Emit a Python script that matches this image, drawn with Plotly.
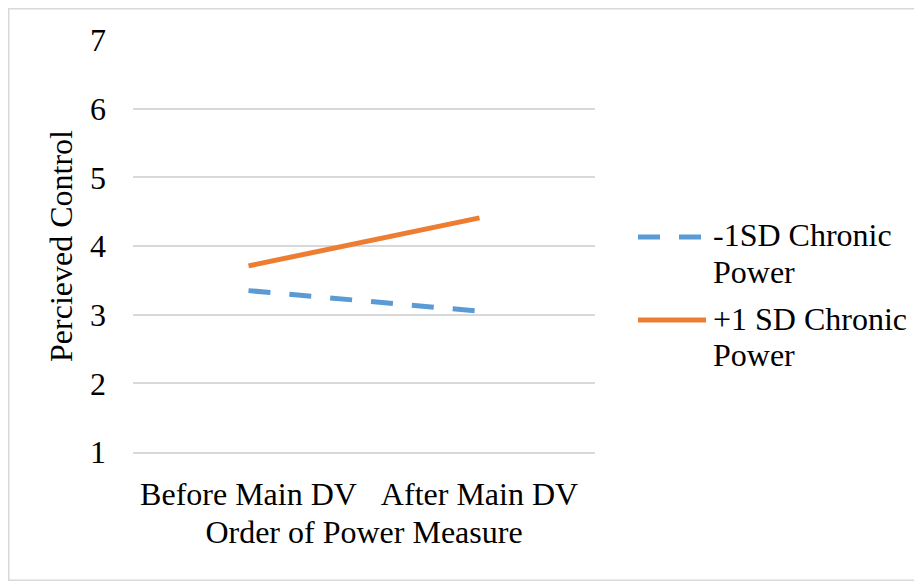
import plotly.graph_objects as go

categories = ["Before Main DV", "After Main DV"]
series_names = ["-1SD Chronic Power", "+1 SD Chronic Power"]
legend_lines = [["-1SD Chronic", "Power"], ["+1 SD Chronic", "Power"]]
low_power = [3.35, 3.05]
high_power = [3.71, 4.41]
y_ticks = [1, 2, 3, 4, 5, 6, 7]
colors = ["#5B9BD5", "#ED7D31"]
dashes = ["22px,19px", "solid"]

# page has an 8px body margin; figure sized to fit the window
OFF = 8
W, H = 922 - OFF, 581 - OFF
ml, mr, mt, mb = 125, 327, 32, 129
pw, ph = W - ml - mr, H - mt - mb

FONT = "Liberation Serif, Times New Roman, serif"
FS = 32

fig = go.Figure()
for name, vals, c, d in zip(series_names, [low_power, high_power], colors, dashes):
    fig.add_trace(go.Scatter(
        x=categories, y=vals, name=name, mode="lines",
        line=dict(color=c, width=5, dash=d), showlegend=False,
    ))

def px_x(p):  # page pixel -> paper fraction
    return (p - OFF - ml) / pw

def px_y(p):
    return (H - mb - (p - OFF)) / ph

# outer chart border
fig.add_shape(type="rect", xref="paper", yref="paper",
              x0=px_x(OFF + 0.75), x1=px_x(OFF + W - 0.75),
              y0=px_y(OFF + H - 0.75), y1=px_y(OFF + 0.75),
              line=dict(color="#D9D9D9", width=1.5), fillcolor="rgba(0,0,0,0)",
              layer="below")

# custom legend (long line samples, wrapped text)
leg_rows = [237, 320]
for (l1, l2), c, d, yrow in zip(legend_lines, colors, dashes, leg_rows):
    fig.add_shape(type="line", xref="paper", yref="paper",
                  x0=px_x(638), x1=px_x(706), y0=px_y(yrow), y1=px_y(yrow),
                  line=dict(color=c, width=5, dash=d))
    for k, txt in enumerate([l1, l2]):
        fig.add_annotation(xref="paper", yref="paper", x=px_x(711),
                           y=px_y(yrow - 1.5 + 36.5 * k), xanchor="left", yanchor="middle",
                           text=txt, showarrow=False,
                           font=dict(family=FONT, size=FS, color="black"))

fig.update_layout(
    width=W, height=H,
    margin=dict(l=ml, r=mr, t=mt, b=mb, pad=0),
    paper_bgcolor="white", plot_bgcolor="white",
    font=dict(family=FONT, size=FS, color="black"),
    showlegend=False,
    xaxis=dict(
        type="category", range=[-0.5, 1.5], showgrid=False, zeroline=False,
        showline=True, linecolor="#D9D9D9", linewidth=1.5, ticks="",
        ticklabelstandoff=13,
        title=dict(text="Order of Power Measure", standoff=9,
                   font=dict(family=FONT, size=FS)),
    ),
    yaxis=dict(
        range=[1, 7], tickvals=y_ticks, showgrid=True, gridcolor="#D9D9D9",
        gridwidth=1.5, zeroline=False, showline=False, ticks="",
        ticklabelstandoff=26,
        title=dict(text="Percieved Control", standoff=7,
                   font=dict(family=FONT, size=FS)),
    ),
)

fig.write_html("out.html")
